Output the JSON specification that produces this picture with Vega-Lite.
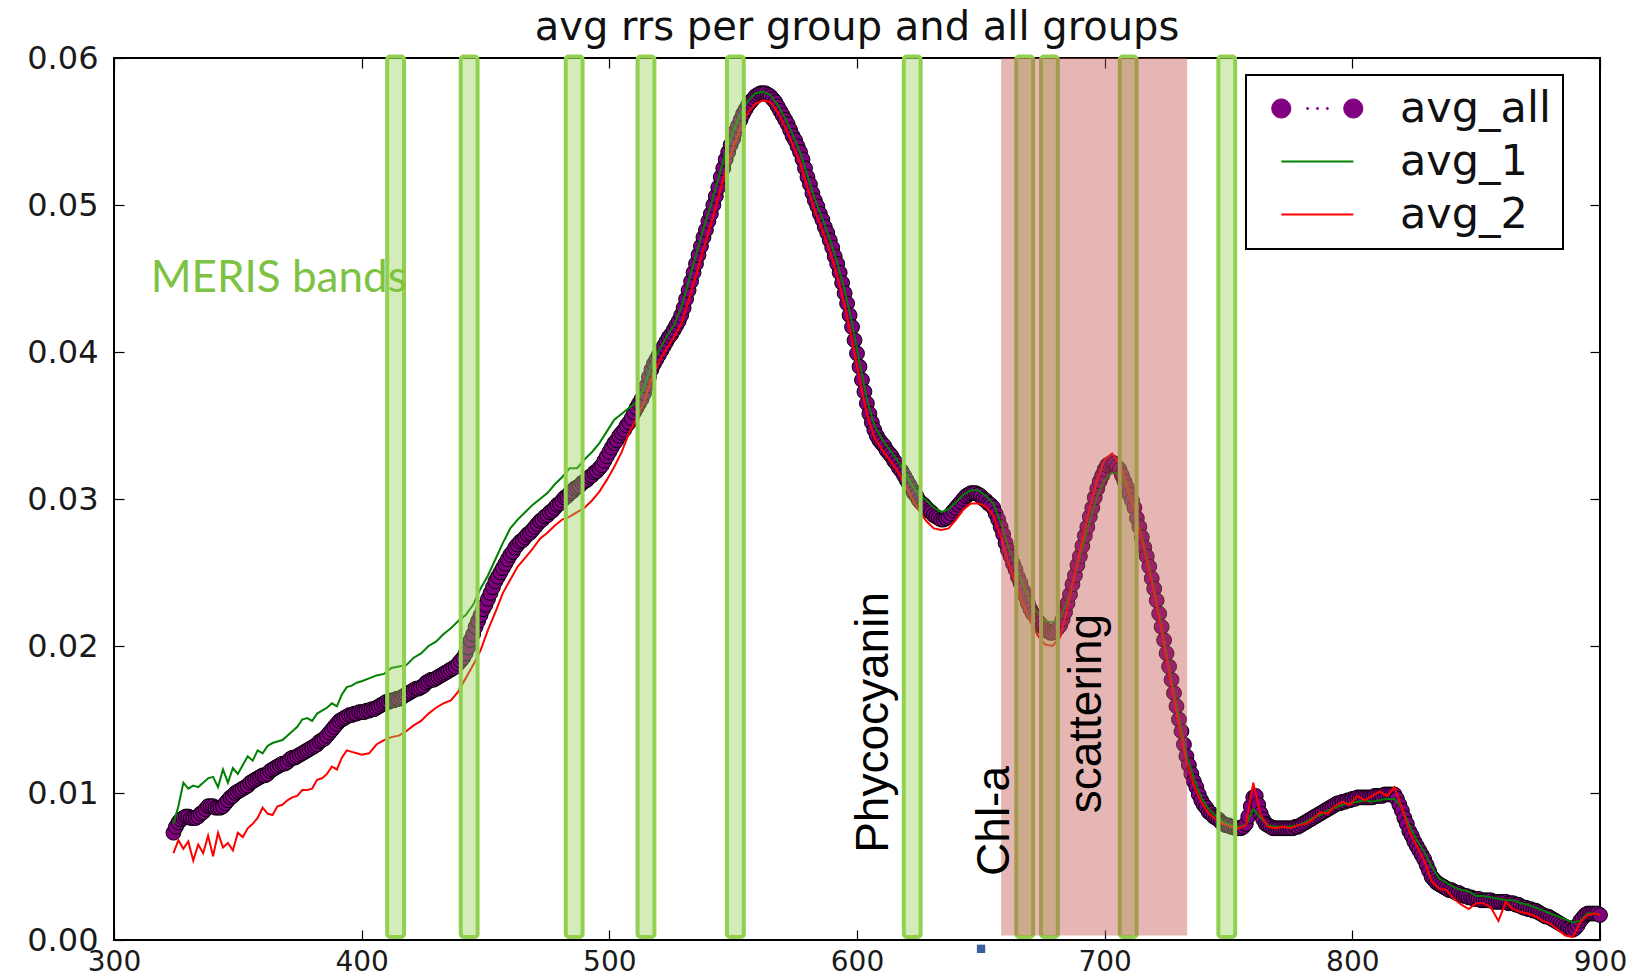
{
"$schema": "https://vega.github.io/schema/vega-lite/v6.json",
"width": 1486, "height": 882, "autosize": "none",
"padding": {"left": 114, "top": 58, "right": 51, "bottom": 36},
"background": "white",
"title": {"text": "avg rrs per group and all groups", "font": "DejaVu Sans", "fontSize": 40, "fontWeight": "normal", "color": "#111", "frame": "group", "anchor": "middle", "offset": -6},
"config": {"view": {"stroke": "#000", "strokeWidth": 2}, "axis": {"grid": false, "domain": false, "labelFont": "DejaVu Sans", "labelFontSize": 32, "labelColor": "#1a1a1a", "tickColor": "#000", "tickWidth": 1.2, "labelFlush": false, "labelOverlap": false}},
"datasets": {
"all": [
{"w":324,"avg_all":0.0073},{"w":325,"avg_all":0.0077},{"w":326,"avg_all":0.0080},{"w":327,"avg_all":0.0082},{"w":328,"avg_all":0.0083},{"w":329,"avg_all":0.0084},{"w":330,"avg_all":0.0084},{"w":331,"avg_all":0.0083},{"w":332,"avg_all":0.0083},{"w":333,"avg_all":0.0083},
{"w":334,"avg_all":0.0084},{"w":335,"avg_all":0.0086},{"w":336,"avg_all":0.0087},{"w":337,"avg_all":0.0089},{"w":338,"avg_all":0.0091},{"w":339,"avg_all":0.0091},{"w":340,"avg_all":0.0091},{"w":341,"avg_all":0.0090},{"w":342,"avg_all":0.0090},{"w":343,"avg_all":0.0090},
{"w":344,"avg_all":0.0091},{"w":345,"avg_all":0.0093},{"w":346,"avg_all":0.0095},{"w":347,"avg_all":0.0097},{"w":348,"avg_all":0.0098},{"w":349,"avg_all":0.0100},{"w":350,"avg_all":0.0101},{"w":351,"avg_all":0.0102},{"w":352,"avg_all":0.0103},{"w":353,"avg_all":0.0104},
{"w":354,"avg_all":0.0105},{"w":355,"avg_all":0.0107},{"w":356,"avg_all":0.0108},{"w":357,"avg_all":0.0109},{"w":358,"avg_all":0.0110},{"w":359,"avg_all":0.0111},{"w":360,"avg_all":0.0112},{"w":361,"avg_all":0.0112},{"w":362,"avg_all":0.0113},{"w":363,"avg_all":0.0115},
{"w":364,"avg_all":0.0116},{"w":365,"avg_all":0.0117},{"w":366,"avg_all":0.0118},{"w":367,"avg_all":0.0119},{"w":368,"avg_all":0.0120},{"w":369,"avg_all":0.0120},{"w":370,"avg_all":0.0121},{"w":371,"avg_all":0.0123},{"w":372,"avg_all":0.0124},{"w":373,"avg_all":0.0124},
{"w":374,"avg_all":0.0125},{"w":375,"avg_all":0.0126},{"w":376,"avg_all":0.0127},{"w":377,"avg_all":0.0128},{"w":378,"avg_all":0.0129},{"w":379,"avg_all":0.0130},{"w":380,"avg_all":0.0131},{"w":381,"avg_all":0.0132},{"w":382,"avg_all":0.0133},{"w":383,"avg_all":0.0135},
{"w":384,"avg_all":0.0136},{"w":385,"avg_all":0.0137},{"w":386,"avg_all":0.0139},{"w":387,"avg_all":0.0141},{"w":388,"avg_all":0.0143},{"w":389,"avg_all":0.0145},{"w":390,"avg_all":0.0147},{"w":391,"avg_all":0.0149},{"w":392,"avg_all":0.0150},{"w":393,"avg_all":0.0151},
{"w":394,"avg_all":0.0152},{"w":395,"avg_all":0.0153},{"w":396,"avg_all":0.0153},{"w":397,"avg_all":0.0154},{"w":398,"avg_all":0.0154},{"w":399,"avg_all":0.0155},{"w":400,"avg_all":0.0155},{"w":401,"avg_all":0.0155},{"w":402,"avg_all":0.0156},{"w":403,"avg_all":0.0156},
{"w":404,"avg_all":0.0157},{"w":405,"avg_all":0.0157},{"w":406,"avg_all":0.0158},{"w":407,"avg_all":0.0159},{"w":408,"avg_all":0.0160},{"w":409,"avg_all":0.0161},{"w":410,"avg_all":0.0162},{"w":411,"avg_all":0.0162},{"w":412,"avg_all":0.0163},{"w":413,"avg_all":0.0163},
{"w":414,"avg_all":0.0164},{"w":415,"avg_all":0.0164},{"w":416,"avg_all":0.0165},{"w":417,"avg_all":0.0166},{"w":418,"avg_all":0.0167},{"w":419,"avg_all":0.0168},{"w":420,"avg_all":0.0169},{"w":421,"avg_all":0.0170},{"w":422,"avg_all":0.0171},{"w":423,"avg_all":0.0171},
{"w":424,"avg_all":0.0172},{"w":425,"avg_all":0.0173},{"w":426,"avg_all":0.0175},{"w":427,"avg_all":0.0176},{"w":428,"avg_all":0.0177},{"w":429,"avg_all":0.0177},{"w":430,"avg_all":0.0178},{"w":431,"avg_all":0.0179},{"w":432,"avg_all":0.0180},{"w":433,"avg_all":0.0181},
{"w":434,"avg_all":0.0182},{"w":435,"avg_all":0.0183},{"w":436,"avg_all":0.0184},{"w":437,"avg_all":0.0185},{"w":438,"avg_all":0.0186},{"w":439,"avg_all":0.0188},{"w":440,"avg_all":0.0190},{"w":441,"avg_all":0.0192},{"w":442,"avg_all":0.0195},{"w":443,"avg_all":0.0199},
{"w":444,"avg_all":0.0204},{"w":445,"avg_all":0.0208},{"w":446,"avg_all":0.0213},{"w":447,"avg_all":0.0217},{"w":448,"avg_all":0.0221},{"w":449,"avg_all":0.0225},{"w":450,"avg_all":0.0228},{"w":451,"avg_all":0.0232},{"w":452,"avg_all":0.0236},{"w":453,"avg_all":0.0240},
{"w":454,"avg_all":0.0244},{"w":455,"avg_all":0.0247},{"w":456,"avg_all":0.0250},{"w":457,"avg_all":0.0253},{"w":458,"avg_all":0.0256},{"w":459,"avg_all":0.0259},{"w":460,"avg_all":0.0262},{"w":461,"avg_all":0.0264},{"w":462,"avg_all":0.0267},{"w":463,"avg_all":0.0269},
{"w":464,"avg_all":0.0271},{"w":465,"avg_all":0.0272},{"w":466,"avg_all":0.0274},{"w":467,"avg_all":0.0276},{"w":468,"avg_all":0.0277},{"w":469,"avg_all":0.0279},{"w":470,"avg_all":0.0281},{"w":471,"avg_all":0.0283},{"w":472,"avg_all":0.0285},{"w":473,"avg_all":0.0286},
{"w":474,"avg_all":0.0288},{"w":475,"avg_all":0.0289},{"w":476,"avg_all":0.0291},{"w":477,"avg_all":0.0292},{"w":478,"avg_all":0.0294},{"w":479,"avg_all":0.0296},{"w":480,"avg_all":0.0297},{"w":481,"avg_all":0.0299},{"w":482,"avg_all":0.0301},{"w":483,"avg_all":0.0302},
{"w":484,"avg_all":0.0304},{"w":485,"avg_all":0.0305},{"w":486,"avg_all":0.0307},{"w":487,"avg_all":0.0308},{"w":488,"avg_all":0.0309},{"w":489,"avg_all":0.0311},{"w":490,"avg_all":0.0312},{"w":491,"avg_all":0.0313},{"w":492,"avg_all":0.0315},{"w":493,"avg_all":0.0316},
{"w":494,"avg_all":0.0318},{"w":495,"avg_all":0.0319},{"w":496,"avg_all":0.0321},{"w":497,"avg_all":0.0323},{"w":498,"avg_all":0.0326},{"w":499,"avg_all":0.0329},{"w":500,"avg_all":0.0332},{"w":501,"avg_all":0.0335},{"w":502,"avg_all":0.0338},{"w":503,"avg_all":0.0340},
{"w":504,"avg_all":0.0343},{"w":505,"avg_all":0.0345},{"w":506,"avg_all":0.0347},{"w":507,"avg_all":0.0350},{"w":508,"avg_all":0.0352},{"w":509,"avg_all":0.0355},{"w":510,"avg_all":0.0359},{"w":511,"avg_all":0.0362},{"w":512,"avg_all":0.0365},{"w":513,"avg_all":0.0368},
{"w":514,"avg_all":0.0372},{"w":515,"avg_all":0.0377},{"w":516,"avg_all":0.0383},{"w":517,"avg_all":0.0388},{"w":518,"avg_all":0.0392},{"w":519,"avg_all":0.0395},{"w":520,"avg_all":0.0398},{"w":521,"avg_all":0.0401},{"w":522,"avg_all":0.0404},{"w":523,"avg_all":0.0407},
{"w":524,"avg_all":0.0410},{"w":525,"avg_all":0.0412},{"w":526,"avg_all":0.0415},{"w":527,"avg_all":0.0418},{"w":528,"avg_all":0.0421},{"w":529,"avg_all":0.0425},{"w":530,"avg_all":0.0430},{"w":531,"avg_all":0.0436},{"w":532,"avg_all":0.0442},{"w":533,"avg_all":0.0448},
{"w":534,"avg_all":0.0454},{"w":535,"avg_all":0.0460},{"w":536,"avg_all":0.0466},{"w":537,"avg_all":0.0472},{"w":538,"avg_all":0.0478},{"w":539,"avg_all":0.0483},{"w":540,"avg_all":0.0489},{"w":541,"avg_all":0.0494},{"w":542,"avg_all":0.0500},{"w":543,"avg_all":0.0506},
{"w":544,"avg_all":0.0512},{"w":545,"avg_all":0.0519},{"w":546,"avg_all":0.0525},{"w":547,"avg_all":0.0531},{"w":548,"avg_all":0.0536},{"w":549,"avg_all":0.0541},{"w":550,"avg_all":0.0545},{"w":551,"avg_all":0.0550},{"w":552,"avg_all":0.0554},{"w":553,"avg_all":0.0558},
{"w":554,"avg_all":0.0562},{"w":555,"avg_all":0.0565},{"w":556,"avg_all":0.0568},{"w":557,"avg_all":0.0570},{"w":558,"avg_all":0.0572},{"w":559,"avg_all":0.0574},{"w":560,"avg_all":0.0575},{"w":561,"avg_all":0.0576},{"w":562,"avg_all":0.0576},{"w":563,"avg_all":0.0576},
{"w":564,"avg_all":0.0575},{"w":565,"avg_all":0.0574},{"w":566,"avg_all":0.0572},{"w":567,"avg_all":0.0570},{"w":568,"avg_all":0.0567},{"w":569,"avg_all":0.0564},{"w":570,"avg_all":0.0561},{"w":571,"avg_all":0.0558},{"w":572,"avg_all":0.0555},{"w":573,"avg_all":0.0551},
{"w":574,"avg_all":0.0547},{"w":575,"avg_all":0.0544},{"w":576,"avg_all":0.0540},{"w":577,"avg_all":0.0536},{"w":578,"avg_all":0.0531},{"w":579,"avg_all":0.0525},{"w":580,"avg_all":0.0519},{"w":581,"avg_all":0.0514},{"w":582,"avg_all":0.0508},{"w":583,"avg_all":0.0503},
{"w":584,"avg_all":0.0499},{"w":585,"avg_all":0.0494},{"w":586,"avg_all":0.0490},{"w":587,"avg_all":0.0485},{"w":588,"avg_all":0.0481},{"w":589,"avg_all":0.0476},{"w":590,"avg_all":0.0471},{"w":591,"avg_all":0.0465},{"w":592,"avg_all":0.0460},{"w":593,"avg_all":0.0454},
{"w":594,"avg_all":0.0447},{"w":595,"avg_all":0.0440},{"w":596,"avg_all":0.0433},{"w":597,"avg_all":0.0425},{"w":598,"avg_all":0.0417},{"w":599,"avg_all":0.0408},{"w":600,"avg_all":0.0399},{"w":601,"avg_all":0.0390},{"w":602,"avg_all":0.0381},{"w":603,"avg_all":0.0373},
{"w":604,"avg_all":0.0365},{"w":605,"avg_all":0.0358},{"w":606,"avg_all":0.0352},{"w":607,"avg_all":0.0347},{"w":608,"avg_all":0.0343},{"w":609,"avg_all":0.0340},{"w":610,"avg_all":0.0338},{"w":611,"avg_all":0.0336},{"w":612,"avg_all":0.0333},{"w":613,"avg_all":0.0331},
{"w":614,"avg_all":0.0329},{"w":615,"avg_all":0.0326},{"w":616,"avg_all":0.0324},{"w":617,"avg_all":0.0321},{"w":618,"avg_all":0.0319},{"w":619,"avg_all":0.0316},{"w":620,"avg_all":0.0313},{"w":621,"avg_all":0.0310},{"w":622,"avg_all":0.0307},{"w":623,"avg_all":0.0304},
{"w":624,"avg_all":0.0302},{"w":625,"avg_all":0.0299},{"w":626,"avg_all":0.0297},{"w":627,"avg_all":0.0296},{"w":628,"avg_all":0.0294},{"w":629,"avg_all":0.0292},{"w":630,"avg_all":0.0291},{"w":631,"avg_all":0.0289},{"w":632,"avg_all":0.0288},{"w":633,"avg_all":0.0287},
{"w":634,"avg_all":0.0286},{"w":635,"avg_all":0.0286},{"w":636,"avg_all":0.0287},{"w":637,"avg_all":0.0288},{"w":638,"avg_all":0.0290},{"w":639,"avg_all":0.0292},{"w":640,"avg_all":0.0294},{"w":641,"avg_all":0.0296},{"w":642,"avg_all":0.0298},{"w":643,"avg_all":0.0300},
{"w":644,"avg_all":0.0302},{"w":645,"avg_all":0.0303},{"w":646,"avg_all":0.0304},{"w":647,"avg_all":0.0304},{"w":648,"avg_all":0.0304},{"w":649,"avg_all":0.0303},{"w":650,"avg_all":0.0302},{"w":651,"avg_all":0.0300},{"w":652,"avg_all":0.0299},{"w":653,"avg_all":0.0297},
{"w":654,"avg_all":0.0296},{"w":655,"avg_all":0.0294},{"w":656,"avg_all":0.0290},{"w":657,"avg_all":0.0286},{"w":658,"avg_all":0.0281},{"w":659,"avg_all":0.0276},{"w":660,"avg_all":0.0270},{"w":661,"avg_all":0.0265},{"w":662,"avg_all":0.0261},{"w":663,"avg_all":0.0256},
{"w":664,"avg_all":0.0252},{"w":665,"avg_all":0.0247},{"w":666,"avg_all":0.0243},{"w":667,"avg_all":0.0238},{"w":668,"avg_all":0.0234},{"w":669,"avg_all":0.0229},{"w":670,"avg_all":0.0225},{"w":671,"avg_all":0.0222},{"w":672,"avg_all":0.0220},{"w":673,"avg_all":0.0217},
{"w":674,"avg_all":0.0215},{"w":675,"avg_all":0.0213},{"w":676,"avg_all":0.0211},{"w":677,"avg_all":0.0210},{"w":678,"avg_all":0.0209},{"w":679,"avg_all":0.0209},{"w":680,"avg_all":0.0210},{"w":681,"avg_all":0.0212},{"w":682,"avg_all":0.0214},{"w":683,"avg_all":0.0218},
{"w":684,"avg_all":0.0223},{"w":685,"avg_all":0.0229},{"w":686,"avg_all":0.0235},{"w":687,"avg_all":0.0242},{"w":688,"avg_all":0.0248},{"w":689,"avg_all":0.0255},{"w":690,"avg_all":0.0261},{"w":691,"avg_all":0.0268},{"w":692,"avg_all":0.0275},{"w":693,"avg_all":0.0281},
{"w":694,"avg_all":0.0288},{"w":695,"avg_all":0.0294},{"w":696,"avg_all":0.0301},{"w":697,"avg_all":0.0307},{"w":698,"avg_all":0.0312},{"w":699,"avg_all":0.0316},{"w":700,"avg_all":0.0320},{"w":701,"avg_all":0.0323},{"w":702,"avg_all":0.0324},{"w":703,"avg_all":0.0325},
{"w":704,"avg_all":0.0324},{"w":705,"avg_all":0.0322},{"w":706,"avg_all":0.0320},{"w":707,"avg_all":0.0316},{"w":708,"avg_all":0.0312},{"w":709,"avg_all":0.0308},{"w":710,"avg_all":0.0303},{"w":711,"avg_all":0.0299},{"w":712,"avg_all":0.0294},{"w":713,"avg_all":0.0287},
{"w":714,"avg_all":0.0281},{"w":715,"avg_all":0.0274},{"w":716,"avg_all":0.0267},{"w":717,"avg_all":0.0261},{"w":718,"avg_all":0.0254},{"w":719,"avg_all":0.0246},{"w":720,"avg_all":0.0239},{"w":721,"avg_all":0.0231},{"w":722,"avg_all":0.0222},{"w":723,"avg_all":0.0213},
{"w":724,"avg_all":0.0204},{"w":725,"avg_all":0.0195},{"w":726,"avg_all":0.0186},{"w":727,"avg_all":0.0177},{"w":728,"avg_all":0.0168},{"w":729,"avg_all":0.0159},{"w":730,"avg_all":0.0150},{"w":731,"avg_all":0.0142},{"w":732,"avg_all":0.0133},{"w":733,"avg_all":0.0125},
{"w":734,"avg_all":0.0119},{"w":735,"avg_all":0.0113},{"w":736,"avg_all":0.0108},{"w":737,"avg_all":0.0104},{"w":738,"avg_all":0.0099},{"w":739,"avg_all":0.0095},{"w":740,"avg_all":0.0092},{"w":741,"avg_all":0.0090},{"w":742,"avg_all":0.0087},{"w":743,"avg_all":0.0086},
{"w":744,"avg_all":0.0084},{"w":745,"avg_all":0.0083},{"w":746,"avg_all":0.0082},{"w":747,"avg_all":0.0080},{"w":748,"avg_all":0.0079},{"w":749,"avg_all":0.0078},{"w":750,"avg_all":0.0078},{"w":751,"avg_all":0.0077},{"w":752,"avg_all":0.0077},{"w":753,"avg_all":0.0076},
{"w":754,"avg_all":0.0076},{"w":755,"avg_all":0.0076},{"w":756,"avg_all":0.0077},{"w":757,"avg_all":0.0079},{"w":758,"avg_all":0.0084},{"w":759,"avg_all":0.0091},{"w":760,"avg_all":0.0097},{"w":761,"avg_all":0.0098},{"w":762,"avg_all":0.0092},{"w":763,"avg_all":0.0086},
{"w":764,"avg_all":0.0082},{"w":765,"avg_all":0.0079},{"w":766,"avg_all":0.0078},{"w":767,"avg_all":0.0077},{"w":768,"avg_all":0.0076},{"w":769,"avg_all":0.0076},{"w":770,"avg_all":0.0076},{"w":771,"avg_all":0.0076},{"w":772,"avg_all":0.0076},{"w":773,"avg_all":0.0076},
{"w":774,"avg_all":0.0076},{"w":775,"avg_all":0.0076},{"w":776,"avg_all":0.0076},{"w":777,"avg_all":0.0077},{"w":778,"avg_all":0.0077},{"w":779,"avg_all":0.0078},{"w":780,"avg_all":0.0079},{"w":781,"avg_all":0.0080},{"w":782,"avg_all":0.0081},{"w":783,"avg_all":0.0082},
{"w":784,"avg_all":0.0083},{"w":785,"avg_all":0.0084},{"w":786,"avg_all":0.0085},{"w":787,"avg_all":0.0086},{"w":788,"avg_all":0.0087},{"w":789,"avg_all":0.0088},{"w":790,"avg_all":0.0089},{"w":791,"avg_all":0.0090},{"w":792,"avg_all":0.0091},{"w":793,"avg_all":0.0092},
{"w":794,"avg_all":0.0093},{"w":795,"avg_all":0.0093},{"w":796,"avg_all":0.0094},{"w":797,"avg_all":0.0094},{"w":798,"avg_all":0.0095},{"w":799,"avg_all":0.0095},{"w":800,"avg_all":0.0096},{"w":801,"avg_all":0.0096},{"w":802,"avg_all":0.0097},{"w":803,"avg_all":0.0097},
{"w":804,"avg_all":0.0097},{"w":805,"avg_all":0.0097},{"w":806,"avg_all":0.0097},{"w":807,"avg_all":0.0097},{"w":808,"avg_all":0.0097},{"w":809,"avg_all":0.0098},{"w":810,"avg_all":0.0098},{"w":811,"avg_all":0.0098},{"w":812,"avg_all":0.0098},{"w":813,"avg_all":0.0099},
{"w":814,"avg_all":0.0099},{"w":815,"avg_all":0.0099},{"w":816,"avg_all":0.0099},{"w":817,"avg_all":0.0099},{"w":818,"avg_all":0.0096},{"w":819,"avg_all":0.0092},{"w":820,"avg_all":0.0088},{"w":821,"avg_all":0.0083},{"w":822,"avg_all":0.0079},{"w":823,"avg_all":0.0074},
{"w":824,"avg_all":0.0071},{"w":825,"avg_all":0.0067},{"w":826,"avg_all":0.0064},{"w":827,"avg_all":0.0061},{"w":828,"avg_all":0.0058},{"w":829,"avg_all":0.0055},{"w":830,"avg_all":0.0051},{"w":831,"avg_all":0.0047},{"w":832,"avg_all":0.0043},{"w":833,"avg_all":0.0041},
{"w":834,"avg_all":0.0039},{"w":835,"avg_all":0.0038},{"w":836,"avg_all":0.0037},{"w":837,"avg_all":0.0036},{"w":838,"avg_all":0.0035},{"w":839,"avg_all":0.0034},{"w":840,"avg_all":0.0034},{"w":841,"avg_all":0.0033},{"w":842,"avg_all":0.0032},{"w":843,"avg_all":0.0032},
{"w":844,"avg_all":0.0031},{"w":845,"avg_all":0.0030},{"w":846,"avg_all":0.0030},{"w":847,"avg_all":0.0029},{"w":848,"avg_all":0.0029},{"w":849,"avg_all":0.0028},{"w":850,"avg_all":0.0028},{"w":851,"avg_all":0.0028},{"w":852,"avg_all":0.0027},{"w":853,"avg_all":0.0027},
{"w":854,"avg_all":0.0027},{"w":855,"avg_all":0.0027},{"w":856,"avg_all":0.0027},{"w":857,"avg_all":0.0026},{"w":858,"avg_all":0.0026},{"w":859,"avg_all":0.0026},{"w":860,"avg_all":0.0026},{"w":861,"avg_all":0.0026},{"w":862,"avg_all":0.0026},{"w":863,"avg_all":0.0025},
{"w":864,"avg_all":0.0025},{"w":865,"avg_all":0.0025},{"w":866,"avg_all":0.0024},{"w":867,"avg_all":0.0024},{"w":868,"avg_all":0.0023},{"w":869,"avg_all":0.0022},{"w":870,"avg_all":0.0022},{"w":871,"avg_all":0.0021},{"w":872,"avg_all":0.0021},{"w":873,"avg_all":0.0020},
{"w":874,"avg_all":0.0020},{"w":875,"avg_all":0.0019},{"w":876,"avg_all":0.0018},{"w":877,"avg_all":0.0017},{"w":878,"avg_all":0.0016},{"w":879,"avg_all":0.0016},{"w":880,"avg_all":0.0015},{"w":881,"avg_all":0.0014},{"w":882,"avg_all":0.0013},{"w":883,"avg_all":0.0012},
{"w":884,"avg_all":0.0011},{"w":885,"avg_all":0.0010},{"w":886,"avg_all":0.0009},{"w":887,"avg_all":0.0008},{"w":888,"avg_all":0.0008},{"w":889,"avg_all":0.0007},{"w":890,"avg_all":0.0008},{"w":891,"avg_all":0.0010},{"w":892,"avg_all":0.0013},{"w":893,"avg_all":0.0015},
{"w":894,"avg_all":0.0017},{"w":895,"avg_all":0.0018},{"w":896,"avg_all":0.0018},{"w":897,"avg_all":0.0018},{"w":898,"avg_all":0.0018},{"w":899,"avg_all":0.0018},{"w":900,"avg_all":0.0017}
],
"spec": [
{"w":324,"avg_1":0.0079,"avg_2":0.0059},{"w":326,"avg_1":0.0091,"avg_2":0.0068},{"w":328,"avg_1":0.0107,"avg_2":0.0062},{"w":330,"avg_1":0.0103,"avg_2":0.0067},{"w":332,"avg_1":0.0105,"avg_2":0.0054},
{"w":334,"avg_1":0.0104,"avg_2":0.0065},{"w":336,"avg_1":0.0107,"avg_2":0.0059},{"w":338,"avg_1":0.0110,"avg_2":0.0071},{"w":340,"avg_1":0.0111,"avg_2":0.0057},{"w":342,"avg_1":0.0104,"avg_2":0.0073},
{"w":344,"avg_1":0.0116,"avg_2":0.0063},{"w":346,"avg_1":0.0107,"avg_2":0.0066},{"w":348,"avg_1":0.0117,"avg_2":0.0061},{"w":350,"avg_1":0.0113,"avg_2":0.0073},{"w":352,"avg_1":0.0119,"avg_2":0.0070},
{"w":354,"avg_1":0.0125,"avg_2":0.0076},{"w":356,"avg_1":0.0122,"avg_2":0.0079},{"w":358,"avg_1":0.0129,"avg_2":0.0083},{"w":360,"avg_1":0.0127,"avg_2":0.0090},{"w":362,"avg_1":0.0132,"avg_2":0.0086},
{"w":364,"avg_1":0.0134,"avg_2":0.0085},{"w":366,"avg_1":0.0135,"avg_2":0.0091},{"w":368,"avg_1":0.0136,"avg_2":0.0092},{"w":370,"avg_1":0.0139,"avg_2":0.0095},{"w":372,"avg_1":0.0142,"avg_2":0.0097},
{"w":374,"avg_1":0.0145,"avg_2":0.0098},{"w":376,"avg_1":0.0150,"avg_2":0.0102},{"w":378,"avg_1":0.0151,"avg_2":0.0102},{"w":380,"avg_1":0.0149,"avg_2":0.0103},{"w":382,"avg_1":0.0154,"avg_2":0.0109},
{"w":384,"avg_1":0.0156,"avg_2":0.0110},{"w":386,"avg_1":0.0158,"avg_2":0.0113},{"w":388,"avg_1":0.0161,"avg_2":0.0118},{"w":390,"avg_1":0.0159,"avg_2":0.0116},{"w":392,"avg_1":0.0167,"avg_2":0.0124},
{"w":394,"avg_1":0.0172,"avg_2":0.0129},{"w":396,"avg_1":0.0173,"avg_2":0.0128},{"w":398,"avg_1":0.0175,"avg_2":0.0127},{"w":400,"avg_1":0.0176,"avg_2":0.0126},{"w":403,"avg_1":0.0178,"avg_2":0.0127},
{"w":406,"avg_1":0.0180,"avg_2":0.0133},{"w":409,"avg_1":0.0181,"avg_2":0.0136},{"w":412,"avg_1":0.0185,"avg_2":0.0138},{"w":415,"avg_1":0.0186,"avg_2":0.0139},{"w":418,"avg_1":0.0187,"avg_2":0.0142},
{"w":421,"avg_1":0.0192,"avg_2":0.0146},{"w":424,"avg_1":0.0195,"avg_2":0.0149},{"w":427,"avg_1":0.0200,"avg_2":0.0154},{"w":430,"avg_1":0.0203,"avg_2":0.0158},{"w":433,"avg_1":0.0208,"avg_2":0.0161},
{"w":436,"avg_1":0.0212,"avg_2":0.0163},{"w":439,"avg_1":0.0217,"avg_2":0.0169},{"w":442,"avg_1":0.0221,"avg_2":0.0178},{"w":445,"avg_1":0.0228,"avg_2":0.0187},{"w":448,"avg_1":0.0239,"avg_2":0.0197},
{"w":451,"avg_1":0.0248,"avg_2":0.0211},{"w":454,"avg_1":0.0259,"avg_2":0.0223},{"w":457,"avg_1":0.0270,"avg_2":0.0236},{"w":460,"avg_1":0.0280,"avg_2":0.0245},{"w":463,"avg_1":0.0286,"avg_2":0.0254},
{"w":466,"avg_1":0.0291,"avg_2":0.0260},{"w":469,"avg_1":0.0296,"avg_2":0.0266},{"w":472,"avg_1":0.0300,"avg_2":0.0273},{"w":475,"avg_1":0.0304,"avg_2":0.0277},{"w":478,"avg_1":0.0310,"avg_2":0.0282},
{"w":481,"avg_1":0.0315,"avg_2":0.0286},{"w":484,"avg_1":0.0321,"avg_2":0.0288},{"w":487,"avg_1":0.0321,"avg_2":0.0291},{"w":490,"avg_1":0.0327,"avg_2":0.0294},{"w":493,"avg_1":0.0332,"avg_2":0.0299},
{"w":496,"avg_1":0.0338,"avg_2":0.0305},{"w":499,"avg_1":0.0346,"avg_2":0.0313},{"w":502,"avg_1":0.0354,"avg_2":0.0322},{"w":505,"avg_1":0.0358,"avg_2":0.0332},{"w":508,"avg_1":0.0362,"avg_2":0.0345},
{"w":511,"avg_1":0.0366,"avg_2":0.0355},{"w":514,"avg_1":0.0376,"avg_2":0.0366},{"w":517,"avg_1":0.0391,"avg_2":0.0382},{"w":520,"avg_1":0.0401,"avg_2":0.0393},{"w":523,"avg_1":0.0410,"avg_2":0.0402},
{"w":526,"avg_1":0.0418,"avg_2":0.0410},{"w":529,"avg_1":0.0430,"avg_2":0.0419},{"w":532,"avg_1":0.0448,"avg_2":0.0435},{"w":535,"avg_1":0.0466,"avg_2":0.0452},{"w":538,"avg_1":0.0484,"avg_2":0.0470},
{"w":541,"avg_1":0.0500,"avg_2":0.0487},{"w":544,"avg_1":0.0518,"avg_2":0.0505},{"w":547,"avg_1":0.0536,"avg_2":0.0524},{"w":550,"avg_1":0.0550,"avg_2":0.0539},{"w":553,"avg_1":0.0562,"avg_2":0.0553},
{"w":556,"avg_1":0.0571,"avg_2":0.0563},{"w":559,"avg_1":0.0576,"avg_2":0.0569},{"w":562,"avg_1":0.0577,"avg_2":0.0571},{"w":565,"avg_1":0.0575,"avg_2":0.0570},{"w":568,"avg_1":0.0568,"avg_2":0.0563},
{"w":571,"avg_1":0.0559,"avg_2":0.0553},{"w":574,"avg_1":0.0548,"avg_2":0.0541},{"w":577,"avg_1":0.0536,"avg_2":0.0529},{"w":580,"avg_1":0.0520,"avg_2":0.0512},{"w":583,"avg_1":0.0504,"avg_2":0.0496},
{"w":586,"avg_1":0.0491,"avg_2":0.0483},{"w":589,"avg_1":0.0477,"avg_2":0.0469},{"w":592,"avg_1":0.0461,"avg_2":0.0452},{"w":595,"avg_1":0.0442,"avg_2":0.0432},{"w":598,"avg_1":0.0420,"avg_2":0.0408},
{"w":601,"avg_1":0.0393,"avg_2":0.0382},{"w":604,"avg_1":0.0368,"avg_2":0.0358},{"w":607,"avg_1":0.0350,"avg_2":0.0342},{"w":610,"avg_1":0.0341,"avg_2":0.0334},{"w":613,"avg_1":0.0334,"avg_2":0.0327},
{"w":616,"avg_1":0.0327,"avg_2":0.0320},{"w":619,"avg_1":0.0319,"avg_2":0.0311},{"w":622,"avg_1":0.0310,"avg_2":0.0301},{"w":625,"avg_1":0.0303,"avg_2":0.0292},{"w":628,"avg_1":0.0299,"avg_2":0.0285},
{"w":631,"avg_1":0.0294,"avg_2":0.0280},{"w":634,"avg_1":0.0291,"avg_2":0.0279},{"w":637,"avg_1":0.0293,"avg_2":0.0280},{"w":640,"avg_1":0.0298,"avg_2":0.0286},{"w":643,"avg_1":0.0303,"avg_2":0.0293},
{"w":646,"avg_1":0.0306,"avg_2":0.0297},{"w":649,"avg_1":0.0306,"avg_2":0.0297},{"w":652,"avg_1":0.0302,"avg_2":0.0295},{"w":655,"avg_1":0.0297,"avg_2":0.0289},{"w":658,"avg_1":0.0284,"avg_2":0.0275},
{"w":661,"avg_1":0.0268,"avg_2":0.0257},{"w":664,"avg_1":0.0255,"avg_2":0.0243},{"w":667,"avg_1":0.0242,"avg_2":0.0229},{"w":670,"avg_1":0.0230,"avg_2":0.0217},{"w":673,"avg_1":0.0222,"avg_2":0.0207},
{"w":676,"avg_1":0.0217,"avg_2":0.0201},{"w":679,"avg_1":0.0216,"avg_2":0.0200},{"w":682,"avg_1":0.0219,"avg_2":0.0206},{"w":685,"avg_1":0.0231,"avg_2":0.0226},{"w":688,"avg_1":0.0249,"avg_2":0.0250},
{"w":691,"avg_1":0.0267,"avg_2":0.0272},{"w":694,"avg_1":0.0285,"avg_2":0.0294},{"w":697,"avg_1":0.0302,"avg_2":0.0313},{"w":700,"avg_1":0.0313,"avg_2":0.0327},{"w":703,"avg_1":0.0318,"avg_2":0.0331},
{"w":706,"avg_1":0.0317,"avg_2":0.0324},{"w":709,"avg_1":0.0308,"avg_2":0.0310},{"w":712,"avg_1":0.0294,"avg_2":0.0293},{"w":715,"avg_1":0.0275,"avg_2":0.0272},{"w":718,"avg_1":0.0254,"avg_2":0.0251},
{"w":721,"avg_1":0.0230,"avg_2":0.0228},{"w":724,"avg_1":0.0204,"avg_2":0.0201},{"w":727,"avg_1":0.0177,"avg_2":0.0173},{"w":730,"avg_1":0.0151,"avg_2":0.0146},{"w":733,"avg_1":0.0127,"avg_2":0.0122},
{"w":736,"avg_1":0.0110,"avg_2":0.0105},{"w":739,"avg_1":0.0097,"avg_2":0.0094},{"w":742,"avg_1":0.0089,"avg_2":0.0086},{"w":745,"avg_1":0.0084,"avg_2":0.0082},{"w":748,"avg_1":0.0080,"avg_2":0.0079},
{"w":751,"avg_1":0.0078,"avg_2":0.0077},{"w":754,"avg_1":0.0077,"avg_2":0.0076},{"w":757,"avg_1":0.0078,"avg_2":0.0078},{"w":760,"avg_1":0.0089,"avg_2":0.0107},{"w":763,"avg_1":0.0083,"avg_2":0.0085},
{"w":766,"avg_1":0.0078,"avg_2":0.0077},{"w":769,"avg_1":0.0077,"avg_2":0.0076},{"w":772,"avg_1":0.0077,"avg_2":0.0077},{"w":775,"avg_1":0.0077,"avg_2":0.0076},{"w":778,"avg_1":0.0078,"avg_2":0.0078},
{"w":781,"avg_1":0.0080,"avg_2":0.0079},{"w":784,"avg_1":0.0083,"avg_2":0.0082},{"w":787,"avg_1":0.0085,"avg_2":0.0087},{"w":790,"avg_1":0.0088,"avg_2":0.0086},{"w":793,"avg_1":0.0090,"avg_2":0.0091},
{"w":796,"avg_1":0.0092,"avg_2":0.0094},{"w":799,"avg_1":0.0093,"avg_2":0.0092},{"w":802,"avg_1":0.0094,"avg_2":0.0098},{"w":805,"avg_1":0.0095,"avg_2":0.0095},{"w":808,"avg_1":0.0094,"avg_2":0.0098},
{"w":811,"avg_1":0.0095,"avg_2":0.0101},{"w":814,"avg_1":0.0096,"avg_2":0.0098},{"w":817,"avg_1":0.0096,"avg_2":0.0104},{"w":820,"avg_1":0.0090,"avg_2":0.0090},{"w":823,"avg_1":0.0078,"avg_2":0.0074},
{"w":826,"avg_1":0.0068,"avg_2":0.0064},{"w":829,"avg_1":0.0060,"avg_2":0.0054},{"w":832,"avg_1":0.0050,"avg_2":0.0040},{"w":835,"avg_1":0.0042,"avg_2":0.0035},{"w":838,"avg_1":0.0039,"avg_2":0.0034},
{"w":841,"avg_1":0.0036,"avg_2":0.0028},{"w":844,"avg_1":0.0034,"avg_2":0.0024},{"w":847,"avg_1":0.0033,"avg_2":0.0021},{"w":850,"avg_1":0.0030,"avg_2":0.0025},{"w":853,"avg_1":0.0030,"avg_2":0.0025},
{"w":856,"avg_1":0.0029,"avg_2":0.0022},{"w":859,"avg_1":0.0028,"avg_2":0.0013},{"w":862,"avg_1":0.0027,"avg_2":0.0026},{"w":865,"avg_1":0.0027,"avg_2":0.0021},{"w":868,"avg_1":0.0025,"avg_2":0.0019},
{"w":871,"avg_1":0.0024,"avg_2":0.0018},{"w":874,"avg_1":0.0022,"avg_2":0.0016},{"w":877,"avg_1":0.0020,"avg_2":0.0013},{"w":880,"avg_1":0.0018,"avg_2":0.0011},{"w":883,"avg_1":0.0016,"avg_2":0.0007},
{"w":886,"avg_1":0.0014,"avg_2":0.0003},{"w":889,"avg_1":0.0012,"avg_2":0.0002},{"w":892,"avg_1":0.0013,"avg_2":0.0012},{"w":895,"avg_1":0.0018,"avg_2":0.0017},{"w":898,"avg_1":0.0018,"avg_2":0.0018},
{"w":900,"avg_1":0.0017,"avg_2":0.0017}
],
"bands": [
{"lo":410.3,"hi":417.1},{"lo":440.0,"hi":446.8},{"lo":482.4,"hi":489.2},{"lo":511.4,"hi":518.2},{"lo":547.5,"hi":554.3},
{"lo":618.9,"hi":625.7},{"lo":664.3,"hi":671.1},{"lo":674.3,"hi":681.1},{"lo":706.1,"hi":712.9},{"lo":745.9,"hi":752.7}
],
"zone": [{"lo":658.2,"hi":733.3}],
"notes": [{"t":"Phycocyanin","w":606.8,"v":0.0148},{"t":"Chl-a","w":655.9,"v":0.0081},{"t":"scattering","w":692.7,"v":0.0154}],
"meris": [{"t":"MERIS bands","w":314.8,"v":0.0441}],
"marker": [{"w":650.1,"v":-0.0006}]
},
"layer": [
{
"data": {"name": "all"},
"transform": [{"fold": ["avg_all"], "as": ["series","v"]}],
"mark": {"type": "line", "color": "#c040c0", "strokeDash": [2,5], "strokeWidth": 1.5},
"encoding": {
"x": {"field": "w", "type": "quantitative", "scale": {"domain": [300,900], "nice": false, "zero": false}, "axis": {"orient": "bottom", "title": null, "values": [300,400,500,600,700,800,900], "format": "d", "tickSize": -10, "labelPadding": 18, "labelFontSize": 28}},
"y": {"field": "v", "type": "quantitative", "scale": {"domain": [0,0.06], "nice": false}, "axis": {"orient": "left", "title": null, "values": [0,0.01,0.02,0.03,0.04,0.05,0.06], "format": ".2f", "tickSize": -10, "labelPadding": 26}}
}
},
{
"data": {"name": "all"},
"transform": [{"fold": ["avg_all"], "as": ["series","v"]}],
"mark": {"type": "point", "shape": "circle", "filled": true, "size": 220, "stroke": "#000", "strokeWidth": 1, "opacity": 1},
"encoding": {
"x": {"field": "w", "type": "quantitative", "scale": {"domain": [300,900], "nice": false, "zero": false}, "axis": null},
"y": {"field": "v", "type": "quantitative", "scale": {"domain": [0,0.06], "nice": false}, "axis": null},
"color": {"field": "series", "type": "nominal", "scale": {"domain": ["avg_all","avg_1","avg_2"], "range": ["#800080","#008000","#ff0000"]},
"legend": {"title": null, "orient": "none", "legendX": 1132, "legendY": 17, "padding": 12, "strokeColor": "#000", "fillColor": "#fff", "labelFont": "DejaVu Sans", "labelFontSize": 43, "labelColor": "#111", "symbolSize": 1296, "labelOffset": 99, "rowPadding": 9,
"encode": {"legend": {"update": {"strokeWidth": {"value": 2}}}, "symbols": {"update": {
"shape": {"signal": "datum.value === 'avg_all' ? 'M-0.43,0a0.53,0.53 0 1,0 1.06,0a0.53,0.53 0 1,0 -1.06,0Z M3.57,0a0.53,0.53 0 1,0 1.06,0a0.53,0.53 0 1,0 -1.06,0Z M1.5,0a0.06,0.06 0 1,0 0.12,0a0.06,0.06 0 1,0 -0.12,0Z M2.05,0a0.06,0.06 0 1,0 0.12,0a0.06,0.06 0 1,0 -0.12,0Z M2.6,0a0.06,0.06 0 1,0 0.12,0a0.06,0.06 0 1,0 -0.12,0Z' : 'M0.1,0L4.1,0'"},
"fill": {"signal": "datum.value === 'avg_all' ? '#800080' : 'transparent'"},
"stroke": {"signal": "datum.value === 'avg_all' ? '#000' : (datum.value === 'avg_1' ? '#008000' : '#ff0000')"},
"strokeWidth": {"signal": "datum.value === 'avg_all' ? 1 : 2"},
"opacity": {"value": 1}
}}}}}
}
},
{
"data": {"name": "spec"},
"transform": [{"fold": ["avg_1","avg_2"], "as": ["series","v"]}],
"mark": {"type": "line", "strokeWidth": 2},
"encoding": {
"x": {"field": "w", "type": "quantitative", "scale": {"domain": [300,900], "nice": false, "zero": false}, "axis": null},
"y": {"field": "v", "type": "quantitative", "scale": {"domain": [0,0.06], "nice": false}, "axis": null},
"color": {"field": "series", "type": "nominal", "scale": {"domain": ["avg_all","avg_1","avg_2"], "range": ["#800080","#008000","#ff0000"]},
"legend": {"title": null, "orient": "none", "legendX": 1132, "legendY": 17, "padding": 12, "strokeColor": "#000", "fillColor": "#fff", "labelFont": "DejaVu Sans", "labelFontSize": 43, "labelColor": "#111", "symbolSize": 1296, "labelOffset": 99, "rowPadding": 9,
"encode": {"legend": {"update": {"strokeWidth": {"value": 2}}}, "symbols": {"update": {
"shape": {"signal": "datum.value === 'avg_all' ? 'M-0.43,0a0.53,0.53 0 1,0 1.06,0a0.53,0.53 0 1,0 -1.06,0Z M3.57,0a0.53,0.53 0 1,0 1.06,0a0.53,0.53 0 1,0 -1.06,0Z M1.5,0a0.06,0.06 0 1,0 0.12,0a0.06,0.06 0 1,0 -0.12,0Z M2.05,0a0.06,0.06 0 1,0 0.12,0a0.06,0.06 0 1,0 -0.12,0Z M2.6,0a0.06,0.06 0 1,0 0.12,0a0.06,0.06 0 1,0 -0.12,0Z' : 'M0.1,0L4.1,0'"},
"fill": {"signal": "datum.value === 'avg_all' ? '#800080' : 'transparent'"},
"stroke": {"signal": "datum.value === 'avg_all' ? '#000' : (datum.value === 'avg_1' ? '#008000' : '#ff0000')"},
"strokeWidth": {"signal": "datum.value === 'avg_all' ? 1 : 2"},
"opacity": {"value": 1}
}}}}}
}
},
{
"data": {"name": "bands"},
"mark": {"type": "rect", "fill": "#92D050", "fillOpacity": 0.4, "stroke": "#92D050", "strokeWidth": 4, "cornerRadius": 3},
"encoding": {
"x": {"field": "lo", "type": "quantitative", "scale": {"domain": [300,900], "nice": false, "zero": false}, "axis": null},
"x2": {"field": "hi"},
"y": {"datum": 0.0002, "type": "quantitative", "scale": {"domain": [0,0.06], "nice": false}, "axis": null},
"y2": {"datum": 0.0601}
}
},
{
"data": {"name": "zone"},
"mark": {"type": "rect", "fill": "#C0504D", "opacity": 0.42},
"encoding": {
"x": {"field": "lo", "type": "quantitative", "scale": {"domain": [300,900], "nice": false, "zero": false}, "axis": null},
"x2": {"field": "hi"},
"y": {"datum": 0.0003, "type": "quantitative", "scale": {"domain": [0,0.06], "nice": false}, "axis": null},
"y2": {"datum": 0.06}
}
},
{
"data": {"name": "notes"},
"mark": {"type": "text", "angle": 270, "font": "Liberation Sans", "fontSize": 46, "align": "center", "baseline": "middle", "color": "#000"},
"encoding": {
"x": {"field": "w", "type": "quantitative", "scale": {"domain": [300,900], "nice": false, "zero": false}, "axis": null},
"y": {"field": "v", "type": "quantitative", "scale": {"domain": [0,0.06], "nice": false}, "axis": null},
"text": {"field": "t"}
}
},
{
"data": {"name": "meris"},
"mark": {"type": "text", "font": "Lato", "fontSize": 44, "align": "left", "baseline": "alphabetic", "color": "#7DC242"},
"encoding": {
"x": {"field": "w", "type": "quantitative", "scale": {"domain": [300,900], "nice": false, "zero": false}, "axis": null},
"y": {"field": "v", "type": "quantitative", "scale": {"domain": [0,0.06], "nice": false}, "axis": null},
"text": {"field": "t"}
}
},
{
"data": {"name": "marker"},
"mark": {"type": "point", "shape": "square", "filled": true, "size": 70, "color": "#3B62A0", "opacity": 1, "clip": false},
"encoding": {
"x": {"field": "w", "type": "quantitative", "scale": {"domain": [300,900], "nice": false, "zero": false}, "axis": {"orient": "top", "title": null, "labels": false, "values": [300,400,500,600,700,800,900], "tickSize": -10}},
"y": {"field": "v", "type": "quantitative", "scale": {"domain": [0,0.06], "nice": false}, "axis": {"orient": "right", "title": null, "labels": false, "values": [0,0.01,0.02,0.03,0.04,0.05,0.06], "tickSize": -10}}
}
}
],
"resolve": {"axis": {"x": "independent", "y": "independent"}}
}
